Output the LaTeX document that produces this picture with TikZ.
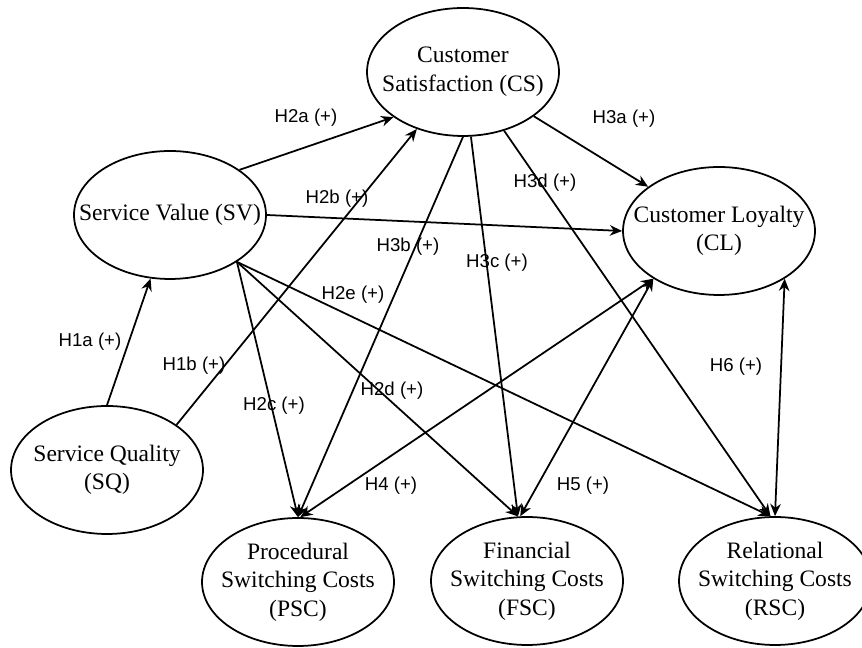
\documentclass[tikz,border=0pt]{standalone}
\usepackage{fontspec}
\setmainfont{Liberation Serif}
\newfontfamily\hlabelfont{Liberation Sans}
\usetikzlibrary{arrows.meta, shapes.geometric, positioning}

\begin{document}
\begin{tikzpicture}[x=0.02cm, y=0.02cm,
    construct/.style={draw, ellipse, line width=1pt, minimum width=3.84cm, minimum height=2.56cm, inner sep=0pt},
    ctext/.style={align=center, inner sep=0pt, font=\fontsize{13.4}{16.3}\selectfont},
    hyp/.style={line width=1pt, -{Stealth[length=7pt, width=6pt]}},
    hypboth/.style={line width=1pt, {Stealth[length=7pt, width=6pt]}-{Stealth[length=7pt, width=6pt]}},
    hyplabel/.style={font=\hlabelfont\fontsize{10.6}{12}\selectfont, inner sep=1pt}]
    \useasboundingbox (0,0) rectangle (862,648);

    % Draw the constructs
    \node[construct, label={[ctext]center:{Customer\\Satisfaction (CS)}}] (CS) at (463,576) {};
    \node[construct, label={[ctext]center:{Service Value (SV)}}] (SV) at (170,433) {};
    \node[construct, label={[ctext]center:{Customer Loyalty\\(CL)}}] (CL) at (719,417) {};
    \node[construct, label={[ctext]center:{Service Quality\\(SQ)}}] (SQ) at (107,178) {};
    \node[construct, label={[ctext]center:{Procedural\\Switching Costs\\(PSC)}}] (PSC) at (298,66) {};
    \node[construct, label={[ctext]center:{Financial\\Switching Costs\\(FSC)}}] (FSC) at (527,67) {};
    \node[construct, label={[ctext]center:{Relational\\Switching Costs\\(RSC)}}] (RSC) at (775,67) {};

    % Draw hypotheses from service quality and service value
    \draw[hyp] (SQ.90) -- (SV.253);
    \draw[hyp] (SQ.33) -- (CS.231);
    \draw[hyp] (SV.33) -- (CS.213);
    \draw[hyp] (SV.0) -- (CL.180);
    \draw[hyp] (SV.325) -- (PSC.90);
    \draw[hyp] (SV.325) -- (FSC.98);
    \draw[hyp] (SV.325) -- (RSC.94);

    % Draw hypotheses from customer satisfaction
    \draw[hyp] (CS.328) -- (CL.148);
    \draw[hyp] (CS.270) -- (PSC.90);
    \draw[hyp] (CS.277) -- (FSC.98);
    \draw[hyp] (CS.305) -- (RSC.94);

    % Draw switching costs and loyalty
    \draw[hypboth] (PSC.88) -- (CL.216);
    \draw[hypboth] (FSC.96) -- (CL.216);
    \draw[hypboth] (RSC.90) -- (CL.324);

    % Add hypothesis labels
    \node[hyplabel] (l1a) at (90,306) {H1a (+)};
    \node[hyplabel] (l1b) at (194,282) {H1b (+)};
    \node[hyplabel] (l2a) at (306,530) {H2a (+)};
    \node[hyplabel] (l2b) at (337,449) {H2b (+)};
    \node[hyplabel] (l2c) at (274,242) {H2c (+)};
    \node[hyplabel] (l2d) at (392,257) {H2d (+)};
    \node[hyplabel] (l2e) at (353,353) {H2e (+)};
    \node[hyplabel] (l3a) at (624,529) {H3a (+)};
    \node[hyplabel] (l3b) at (408,401) {H3b (+)};
    \node[hyplabel] (l3c) at (497,385) {H3c (+)};
    \node[hyplabel] (l3d) at (545,465) {H3d (+)};
    \node[hyplabel] (l4) at (391,162) {H4 (+)};
    \node[hyplabel] (l5) at (583,162) {H5 (+)};
    \node[hyplabel] (l6) at (736,281) {H6 (+)};
\end{tikzpicture}
\end{document}
